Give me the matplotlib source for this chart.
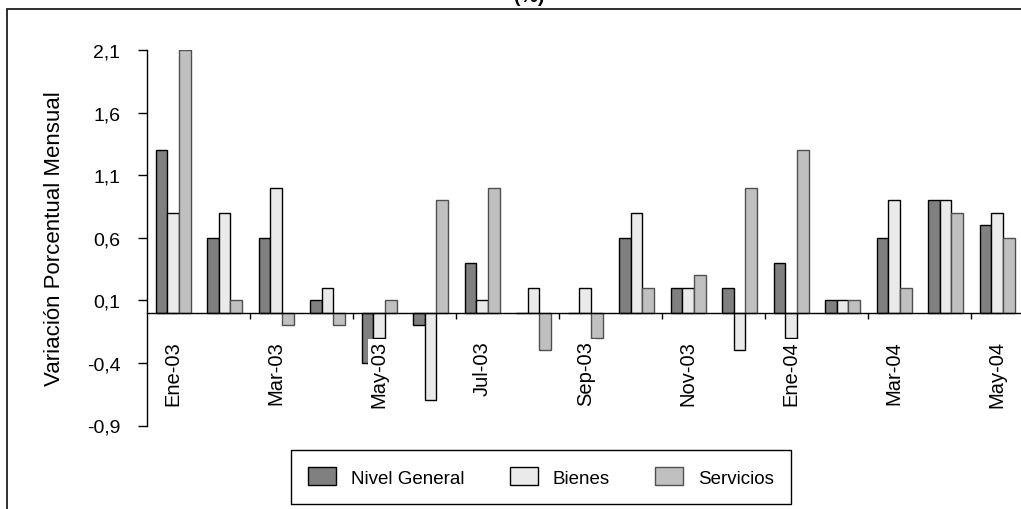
import matplotlib.pyplot as plt
from matplotlib.patches import Rectangle

plt.rcParams['font.family'] = ['Liberation Sans', 'DejaVu Sans']

# monthly CPI variation (%)
months = ["Ene-03", "Feb-03", "Mar-03", "Abr-03", "May-03", "Jun-03",
          "Jul-03", "Ago-03", "Sep-03", "Oct-03", "Nov-03", "Dic-03",
          "Ene-04", "Feb-04", "Mar-04", "Abr-04", "May-04"]
nivel_general = [1.3, 0.6, 0.6, 0.1, -0.4, -0.1, 0.4, 0.0, 0.0, 0.6, 0.2, 0.2,
                 0.4, 0.1, 0.6, 0.9, 0.7]
bienes = [0.8, 0.8, 1.0, 0.2, -0.2, -0.7, 0.1, 0.2, 0.2, 0.8, 0.2, -0.3,
          -0.2, 0.1, 0.9, 0.9, 0.8]
servicios = [2.1, 0.1, -0.1, -0.1, 0.1, 0.9, 1.0, -0.3, -0.2, 0.2, 0.3, 1.0,
             1.3, 0.1, 0.2, 0.8, 0.6]

y_ticks = [-0.9, -0.4, 0.1, 0.6, 1.1, 1.6, 2.1]
y_tick_labels = ["-0,9", "-0,4", "0,1", "0,6", "1,1", "1,6", "2,1"]

W, H = 1021, 510
fig = plt.figure(figsize=(W / 100, H / 100), dpi=100)
ax = fig.add_axes([147.45 / W, 83.5 / H, 875.5 / W, 375.5 / H])

x = list(range(len(months)))
bw = 0.225
ax.bar([i - bw for i in x], nivel_general, bw, color="#808080",
       edgecolor="#000000", linewidth=1.0, label="Nivel General")
ax.bar(x, bienes, bw, color="#EAEAEA",
       edgecolor="#000000", linewidth=1.0, label="Bienes")
ax.bar([i + bw for i in x], servicios, bw, color="#C0C0C0",
       edgecolor="#505050", linewidth=1.0, label="Servicios")

ax.set_xlim(-0.5, len(months) - 0.5)
ax.set_ylim(-0.9, 2.1)

ax.spines["top"].set_visible(False)
ax.spines["right"].set_visible(False)
ax.spines["bottom"].set_position(("data", 0))
ax.spines["bottom"].set_linewidth(1.0)
ax.spines["left"].set_linewidth(1.0)

# tick marks between every second month, labels on the months
ax.set_xticks([i + 0.5 for i in range(1, len(months) - 1, 2)])
ax.set_xticklabels([])
ax.tick_params(axis="x", which="major", direction="out", length=4.5, width=1)
ax.set_xticks(x[::2], minor=True)
ax.set_xticklabels(months[::2], minor=True, rotation=90, fontsize=14.5)
ax.tick_params(axis="x", which="minor", length=0, pad=19.5)
for lbl in ax.get_xticklabels(minor=True):
    lbl.set_bbox(dict(facecolor="white", edgecolor="none", pad=1))

ax.set_yticks(y_ticks)
ax.set_yticklabels(y_tick_labels, fontsize=14)
ax.tick_params(axis="y", direction="out", length=6.5, width=1, pad=13)

ax.set_ylabel("Variación Porcentual Mensual", fontsize=16)
ax.yaxis.set_label_coords(-0.0942, 0.5)

fig.legend(loc="center", bbox_to_anchor=(541 / W, 1 - 478 / H), ncol=3,
           fontsize=13.5, frameon=True, fancybox=False, edgecolor="#000000",
           framealpha=1, handlelength=1.5, handleheight=1.1,
           handletextpad=0.8, columnspacing=2.4, borderpad=0.9)
fig.legends[0].get_frame().set_linewidth(1.0)

# chart area border (cut off on the right and bottom)
fig.patches.append(Rectangle((7 / W, -0.1), 1.2, 1.1 - 10 / H,
                             transform=fig.transFigure, fill=False,
                             edgecolor="#202020", linewidth=1.3))
fig.text(529.5 / W, 1 - 1.5 / H, "(%)", ha="center", va="baseline",
         fontsize=14, fontweight="bold")

fig.savefig("out.png", dpi=100)
